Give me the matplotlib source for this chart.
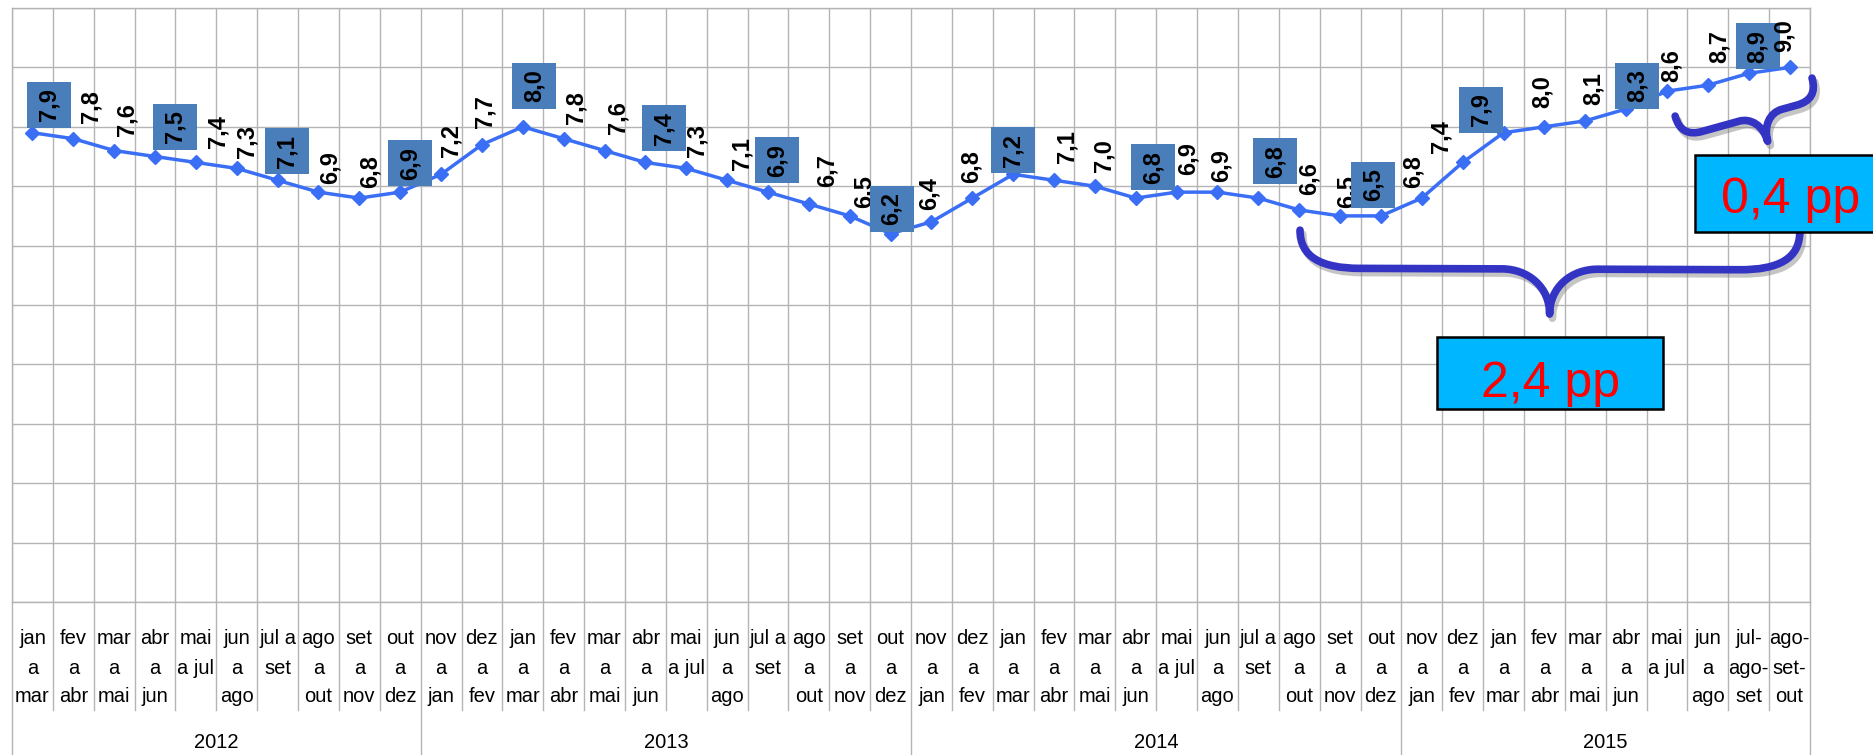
import numpy as np
import matplotlib
matplotlib.use('Agg')
import matplotlib.pyplot as plt
from matplotlib.path import Path
from matplotlib.patches import PathPatch, Rectangle
import matplotlib.transforms as mtransforms
import matplotlib.patheffects as pe

plt.rcParams['font.family'] = ['Liberation Sans', 'DejaVu Sans']

# ---------------- data ----------------
years = ['2012', '2013', '2014', '2015']
year_sizes = [10, 12, 12, 10]
periods = [
    # 2012
    "jan\na\nmar", "fev\na\nabr", "mar\na\nmai", "abr\na\njun", "mai\na jul", "jun\na\nago",
    "jul a\nset", "ago\na\nout", "set\na\nnov", "out\na\ndez",
    # 2013
    "nov\na\njan", "dez\na\nfev", "jan\na\nmar", "fev\na\nabr", "mar\na\nmai", "abr\na\njun",
    "mai\na jul", "jun\na\nago", "jul a\nset", "ago\na\nout", "set\na\nnov", "out\na\ndez",
    # 2014
    "nov\na\njan", "dez\na\nfev", "jan\na\nmar", "fev\na\nabr", "mar\na\nmai", "abr\na\njun",
    "mai\na jul", "jun\na\nago", "jul a\nset", "ago\na\nout", "set\na\nnov", "out\na\ndez",
    # 2015
    "nov\na\njan", "dez\na\nfev", "jan\na\nmar", "fev\na\nabr", "mar\na\nmai", "abr\na\njun",
    "mai\na jul", "jun\na\nago", "jul-\nago-\nset", "ago-\nset-\nout",
]
values = [
    7.9, 7.8, 7.6, 7.5, 7.4, 7.3, 7.1, 6.9, 6.8, 6.9,
    7.2, 7.7, 8.0, 7.8, 7.6, 7.4, 7.3, 7.1, 6.9, 6.7, 6.5, 6.2,
    6.4, 6.8, 7.2, 7.1, 7.0, 6.8, 6.9, 6.9, 6.8, 6.6, 6.5, 6.5,
    6.8, 7.4, 7.9, 8.0, 8.1, 8.3, 8.6, 8.7, 8.9, 9.0,
]
ann_big = '2,4 pp'
ann_small = '0,4 pp'

# ---------------- layout (pixels) ----------------
lab_dx = [17, 18, 13, 20, 22, 10, 9, 12, 11, 10,
          10, 3, 11, 12, 13, 19, 11, 15, 9, 18, 14, 1,
          -2, -1, 0, 13, 9, 17, 12, 4, 17, 10, 7, -8,
          -9, -22, -23, -2, 8, 11, 4, 11, 9, -5]
lab_dy = [5, 16, 15, 7, 14, 10, 6, 8, 10, 6,
          17, 17, 18, 15, 17, 11, 11, 10, 9, 17, 8, 2,
          12, 15, 1, 17, 14, 8, 17, 10, 14, 15, 8, 8,
          10, 9, 0, 19, 16, 0, 9, 22, 4, 15]

W, H = 1873, 755
L, R, T, B = 12, 1810, 8, 602
GRID = '#b4b4b4'
LINE = '#3a6ef5'
BOXC = '#4a7ebb'
BRACE = '#3434c4'

fig = plt.figure(figsize=(W / 100, H / 100), dpi=100)
ax = fig.add_axes([L / W, 1 - B / H, (R - L) / W, (B - T) / H])
n = len(values)
x = np.arange(n)
ax.set_xlim(-0.5, n - 0.5)
ax.set_ylim(0, 10)
ax.set_yticks(np.arange(0, 11, 1))
ax.set_xticks(np.arange(-0.5, n, 1))
ax.tick_params(length=0, labelbottom=False, labelleft=False)
ax.grid(True, color=GRID, lw=1.0)
ax.set_axisbelow(True)
for s in ax.spines.values():
    s.set_color(GRID)
    s.set_linewidth(1.0)

ax.plot(x, values, color=LINE, lw=2.5, marker='D', ms=7.5, zorder=3)

# data labels (same zorder, later ones drawn on top)
for i, v in enumerate(values):
    txt = f"{v:.1f}".replace('.', ',')
    dx, dy = lab_dx[i], lab_dy[i]
    if i % 3 == 0:
        tr = fig.dpi_scale_trans + mtransforms.ScaledTranslation(i, v, ax.transData)
        rect = Rectangle(((dx - 22) / 100, dy / 100), 0.44, 0.46, transform=tr,
                         facecolor=BOXC, edgecolor='none', zorder=5, clip_on=False)
        ax.add_artist(rect)
        ax.annotate(txt, xy=(i, v), xytext=(dx, dy + 23), textcoords='offset pixels',
                    ha='center', va='center', rotation=90, fontsize=17,
                    fontweight='bold', color='black', zorder=5, annotation_clip=False)
    else:
        ax.annotate(txt, xy=(i, v), xytext=(dx, dy), textcoords='offset pixels',
                    ha='center', va='bottom', rotation=90, fontsize=17,
                    fontweight='bold', color='black', zorder=5, annotation_clip=False)

# category axis (multi-level)
trans = mtransforms.blended_transform_factory(ax.transData, ax.transAxes)
hpx = B - T
def ya(py):
    return (B - py) / hpx

bounds = np.cumsum([0] + year_sizes)
for k in range(n + 1):
    xb = k - 0.5
    end = 760 if k in bounds else 710
    ax.plot([xb, xb], [0, ya(end)], transform=trans, clip_on=False,
            color=GRID, lw=1.0, zorder=1)

rows = [639, 668, 697]
for i, lab in enumerate(periods):
    for r, line in enumerate(lab.split('\n')):
        ax.text(i, ya(rows[r]), line, transform=trans, ha='center', va='center',
                fontsize=14.5, color='black', clip_on=False)

for j, yr in enumerate(years):
    cx = (bounds[j] + bounds[j + 1] - 1) / 2
    ax.text(cx, ya(742), yr, transform=trans, ha='center', va='center',
            fontsize=14.5, color='black', clip_on=False)

# ---------------- braces ----------------
def brace(p0, p1, t_tip, depth, hbar, r_end, r_tip):
    a = ax.transData.transform(p0)
    b = ax.transData.transform(p1)
    d = b - a
    Ln = np.hypot(*d)
    u = d / Ln
    vv = np.array([u[1], -u[0]])
    tu = t_tip * Ln
    loc = [
        (0, 0),
        (0, 0.7 * hbar), (0.35 * r_end, hbar), (r_end, hbar),
        (tu - r_tip, hbar),
        (tu - 0.45 * r_tip, hbar), (tu, depth - 0.6 * (depth - hbar)), (tu, depth),
        (tu, depth - 0.6 * (depth - hbar)), (tu + 0.45 * r_tip, hbar), (tu + r_tip, hbar),
        (Ln - r_end, hbar),
        (Ln - 0.35 * r_end, hbar), (Ln, 0.7 * hbar), (Ln, 0),
    ]
    codes = [Path.MOVETO,
             Path.CURVE4, Path.CURVE4, Path.CURVE4,
             Path.LINETO,
             Path.CURVE4, Path.CURVE4, Path.CURVE4,
             Path.CURVE4, Path.CURVE4, Path.CURVE4,
             Path.LINETO,
             Path.CURVE4, Path.CURVE4, Path.CURVE4]
    pts = np.array([a + p * u + q * vv for p, q in loc])
    pts_d = ax.transData.inverted().transform(pts)
    patch = PathPatch(Path(pts_d, codes), facecolor='none', edgecolor=BRACE,
                      lw=5.5, capstyle='round', joinstyle='round', clip_on=False, zorder=7)
    patch.set_path_effects([pe.SimpleLineShadow(offset=(2, -3), shadow_color='gray', alpha=0.45),
                            pe.Normal()])
    ax.add_patch(patch)

brace((31.02, 6.26), (43.25, 6.23), 0.5, 83, 38, 60, 48)
brace((40.2, 8.18), (43.55, 8.82), 0.58, 49, 22, 22, 22)

# ---------------- annotation boxes ----------------
ax.add_patch(Rectangle((34.37, 3.25), 39.90 - 34.37, 4.46 - 3.25, facecolor='#00b7ff',
                       edgecolor='black', lw=1.8, clip_on=False, zorder=8))
ax.text(37.14, 3.45, ann_big, ha='center', va='baseline', fontsize=36, color='#ff0000',
        zorder=9, clip_on=False)
ax.add_patch(Rectangle((40.69, 6.23), 46.0 - 40.69, 7.53 - 6.23, facecolor='#00b7ff',
                       edgecolor='black', lw=1.8, clip_on=False, zorder=8))
ax.text(43.03, 6.55, ann_small, ha='center', va='baseline', fontsize=36, color='#ff0000',
        zorder=9, clip_on=False)

fig.savefig('out.png', dpi=100)
